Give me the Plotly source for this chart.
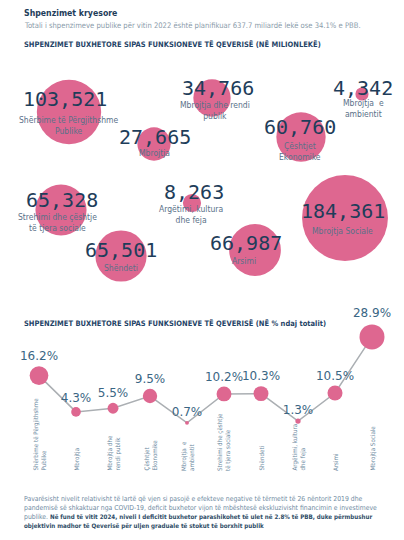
import plotly.graph_objects as go

# ---------------- data ----------------
bubble_values = [103521, 27665, 34766, 4342, 60760, 65328, 8263, 65501, 66987, 184361]
bubble_labels = [
    "Shërbime të Përgjithshme<br>Publike", "Mbrojtja", "Mbrojtja dhe rendi<br>publik",
    "Mbrojtja  e<br>ambientit", "Çështjet<br>Ekonomike", "Strehimi dhe çështje<br>të tjera sociale",
    "Argëtimi, kultura<br>dhe feja", "Shëndeti", "Arsimi", "Mbrojtja Sociale",
]

line_categories = [
    "Shërbime të Përgjithshme<br>Publike", "Mbrojtja", "Mbrojtja dhe<br>rendi publik",
    "Çështjet<br>Ekonomike", "Mbrojtja  e<br>ambientit", "Strehimi dhe çështje<br>të tjera sociale",
    "Shëndeti", "Argëtimi, kultura<br>dhe feja", "Arsimi", "Mbrojtja Sociale",
]
line_values = [16.2, 4.3, 5.5, 9.5, 0.7, 10.2, 10.3, 1.3, 10.5, 28.9]

# ---------------- layout (infographic placement, pixels) ----------------
bubble_x = [69, 154, 212, 362, 301, 61, 192, 121, 255, 345]
bubble_y = [112, 144, 98, 94, 137, 210, 203, 256, 250, 218]
num_x = [65, 155, 218, 363, 300, 62, 194, 121, 246, 343]
num_y = [99, 137, 88, 88, 127, 200, 192, 250, 243, 211]
lab_x = [68, 154, 215, 363, 300, 57, 191, 121, 244, 342]
lab_y = [125, 153, 110, 108, 151, 222, 214, 268, 261, 231]

PINK = "#DE6790"
NAVY = "#1E3D5A"
TITLE = "#1F4467"
LABEL = "#5A7189"
NUMF = "DejaVu Sans Mono, monospace"
TXTF = "DejaVu Sans Condensed, Liberation Sans Narrow, Roboto, sans-serif"

fig = go.Figure()

# Bubbles (area proportional to value)
fig.add_trace(go.Scatter(
    x=bubble_x, y=bubble_y, mode="markers",
    marker=dict(size=bubble_values, sizemode="area", sizeref=50.0,
                color=PINK, opacity=1, line=dict(width=0)),
    xaxis="x", yaxis="y", hoverinfo="skip", showlegend=False,
))

annotations = []
for i, v in enumerate(bubble_values):
    annotations.append(dict(
        x=num_x[i], y=num_y[i], xref="x", yref="y", text=f"{v:,}",
        showarrow=False, font=dict(family=NUMF, size=20, color=NAVY),
        xanchor="center", yanchor="middle"))
    annotations.append(dict(
        x=lab_x[i], y=lab_y[i], xref="x", yref="y", text=bubble_labels[i],
        showarrow=False, font=dict(family=TXTF, size=8.5, color=LABEL),
        xanchor="center", yanchor="middle"))

# Line chart with sized markers
idx = list(range(len(line_values)))
fig.add_trace(go.Scatter(
    x=idx, y=line_values, mode="lines+markers+text",
    text=[f"{v}%" for v in line_values], textposition="top center",
    textfont=dict(family="DejaVu Sans, sans-serif", size=12, color="#3A6684"),
    line=dict(color="#ABAFB3", width=1.5),
    marker=dict(size=line_values, sizemode="area", sizeref=0.0925,
                color=PINK, opacity=1, line=dict(width=0)),
    xaxis="x2", yaxis="y2", hoverinfo="skip", showlegend=False, cliponaxis=False,
))

for i, c in enumerate(line_categories):
    annotations.append(dict(
        x=i, y=1 - 473 / 540, xref="x2", yref="paper", text=c, textangle=-90,
        showarrow=False, font=dict(family=TXTF, size=6.2, color="#6A87A0"),
        xanchor="center", yanchor="bottom", align="left"))

# Titles & texts
annotations += [
    dict(x=22 / 404, y=1 - 6 / 540, xref="paper", yref="paper", xanchor="left", yanchor="top",
         text="<b>Shpenzimet kryesore</b>", showarrow=False,
         font=dict(family=TXTF, size=8.7, color=NAVY)),
    dict(x=22 / 404, y=1 - 19 / 540, xref="paper", yref="paper", xanchor="left", yanchor="top",
         text="Totali i shpenzimeve publike për vitin 2022 është planifikuar 637.7 miliardë lekë ose 34.1% e PBB.",
         showarrow=False, font=dict(family=TXTF, size=7.6, color="#8A9BAA")),
    dict(x=22 / 404, y=1 - 38 / 540, xref="paper", yref="paper", xanchor="left", yanchor="top",
         text="<b>SHPENZIMET BUXHETORE SIPAS FUNKSIONEVE TË QEVERISË (NË MILIONLEKË)</b>",
         showarrow=False, font=dict(family=TXTF, size=7.5, color=TITLE)),
    dict(x=22 / 404, y=1 - 317 / 540, xref="paper", yref="paper", xanchor="left", yanchor="top",
         text="<b>SHPENZIMET BUXHETORE SIPAS FUNKSIONEVE TË QEVERISË (NË % ndaj totalit)</b>",
         showarrow=False, font=dict(family=TXTF, size=7.5, color=TITLE)),
    dict(x=22 / 404, y=1 - 493 / 540, xref="paper", yref="paper", xanchor="left", yanchor="top",
         align="left", showarrow=False,
         font=dict(family=TXTF, size=6.8, color="#6F8BA2"),
         text=("Pavarësisht nivelit relativisht të lartë që vjen si pasojë e efekteve negative të tërmetit të 26 nëntorit 2019 dhe<br>"
               "pandemisë së shkaktuar nga COVID-19, deficit buxhetor vijon të mbështesë ekskluzivisht financimin e investimeve<br>"
               "publike. <b><span style='color:#2E4C66;font-size:6.2px'>Në fund të vitit 2024, niveli I deficitit buxhetor parashikohet të ulet në 2.8% të PBB, duke përmbushur</span></b><br>"
               "<b><span style='color:#2E4C66;font-size:6.2px'>objektivin madhor të Qeverisë për uljen graduale të stokut të borxhit publik</span></b>")),
]

fig.update_layout(
    width=404, height=540, margin=dict(l=0, r=0, t=0, b=0),
    paper_bgcolor="white", plot_bgcolor="white",
    xaxis=dict(domain=[0, 1], range=[0, 404], visible=False, fixedrange=True),
    yaxis=dict(domain=[1 - 300 / 540, 1 - 60 / 540], range=[300, 60], visible=False, fixedrange=True),
    xaxis2=dict(domain=[20.5 / 404, 390.5 / 404], range=[-0.5, 9.5], visible=False, anchor="y2"),
    yaxis2=dict(domain=[1 - 430 / 540, 1 - 300 / 540], range=[-1.64, 41], visible=False, anchor="x2"),
    annotations=annotations,
    font=dict(family=TXTF),
)

fig.write_html("out.html", config={"displayModeBar": False},
               post_script="document.body.style.margin='0';")
